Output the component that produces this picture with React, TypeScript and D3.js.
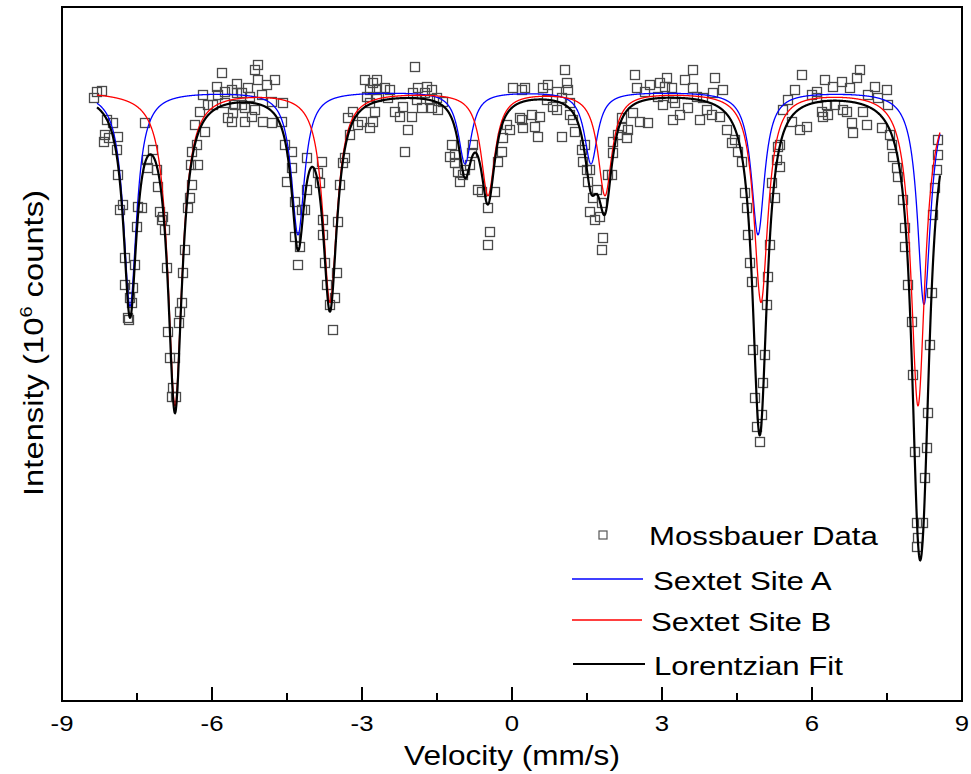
import React from "react";
import * as d3 from "d3";

// Mossbauer data: velocity (mm/s) and intensity (10^6 counts)
const velocity = [
  -8.36, -8.30, -8.20, -8.10, -7.98, -8.14, -8.06, -7.88, -8.16, -7.90, -7.88, -7.78, -7.84, -7.74, -7.54, -7.74, -7.58, -7.64, -7.60, -7.68, -7.66,
  -7.34, -7.18, -7.30, -7.28, -7.10, -7.08, -7.48, -7.40, -7.50, -7.04, -6.98, -7.00, -6.94, -6.90, -6.88, -6.84, -6.74, -6.78, -6.80, -6.72,
  -6.60, -6.64, -6.66, -6.54, -6.58, -6.48, -6.44, -6.40, -6.42, -6.28, -6.30, -6.34, -6.40, -6.24, -6.18, -6.14, -6.08, -5.98, -5.90, -5.88,
  -5.80, -5.74, -5.74, -5.68, -5.60, -5.60, -5.58, -5.54, -5.50, -5.50, -5.40, -5.40, -5.34, -5.34, -5.28, -5.24, -5.20, -5.14, -5.14, -5.08,
  -5.08, -5.00, -4.98, -4.90, -4.80, -4.80, -4.74, -4.60, -4.58, -4.54, -4.40, -4.40, -4.50, -4.34, -4.14, -4.20, -4.34, -4.24, -4.28, -4.10,
  -3.80, -3.88, -3.84, -4.10, -3.78, -3.78, -3.74, -3.70, -3.64, -3.58, -3.54, -3.50, -3.48, -3.44, -3.38, -3.34, -3.24, -3.28, -3.18, -3.00,
  -2.94, -2.84, -2.84, -3.08, -2.70, -2.74, -2.90, -2.70, -1.94, -2.54, -2.78, -2.44, -2.84, -2.70, -2.48, -1.88, -1.70, -1.60, -1.74, -1.98,
  -1.50, -1.90, -1.64, -1.38, -2.18, -2.34, -1.80, -1.60, -1.48, -2.00, -2.24, -2.08, -2.78, -2.14, -1.20, -1.14, -1.24, -1.14, -1.08, -0.94,
  -1.04, -0.78, -0.80, -0.84, -0.98, -0.68, -0.60, -0.34, -0.48, -0.44, -0.48, -0.28, -0.20, -0.18, -0.10, -0.04, 0.20, 0.02, 0.20,
  1.06, 0.72, 1.10, 1.12, 0.62, 0.26, 0.90, 1.00, 0.70, 1.16, 0.82, 0.90, 0.40, 0.56, 1.16, 1.22, 0.16, 0.22, 0.46, 0.52, 1.00, 1.26,
  1.46, 1.40, 1.42, 1.50, 1.56, 1.52, 1.70, 1.62, 1.80, 1.56, 1.66, 1.76, 1.82, 1.80, 1.92, 2.00, 2.02, 2.02, 2.12, 2.20, 2.20, 2.32, 2.30,
  2.42, 2.72, 2.56, 2.50, 2.66, 2.96, 3.06, 3.02, 2.92, 2.76, 2.46, 3.10, 3.20, 3.22, 3.26, 3.46, 3.62, 3.62, 3.70, 4.06, 4.22, 4.02, 3.82,
  3.36, 3.22, 3.52, 3.76, 3.90, 4.00, 4.16, 4.30, 4.46, 4.40, 4.52, 4.60, 4.66, 4.70, 4.72, 4.76, 4.80, 4.82, 4.86, 4.90, 4.96, 5.00, 5.02,
  5.06, 5.10, 5.12, 5.16, 5.26, 5.20, 5.30, 5.32, 5.36, 5.36, 5.80, 6.96, 6.90, 6.26, 6.42, 6.60, 6.76, 7.26, 7.50, 5.66, 6.10, 6.00, 7.12,
  5.52, 7.32, 7.52, 6.30, 6.46, 6.62, 6.70, 5.42, 6.20, 6.32, 7.02, 6.80, 7.10, 6.82, 5.90, 5.76, 5.60, 7.40, 7.56, 6.10, 6.22,
  7.60, 7.62, 7.70, 7.72, 7.82, 7.86, 7.86, 7.92, 8.00, 8.02, 8.06, 8.10, 8.12, 8.10, 8.22, 8.26, 8.30, 8.32, 8.36, 8.40, 8.42, 8.46, 8.50,
  8.52, 8.52,
];
const intensity = [
  6.03, 6.09, 6.10, 5.81, 5.78, 5.66, 5.63, 5.64, 5.59, 5.51, 5.26, 4.96, 4.91, 4.43, 4.36, 4.16, 4.13, 4.03, 3.98, 3.83, 3.81,
  5.78, 5.51, 5.41, 5.33, 5.31, 5.14, 4.94, 4.93, 4.74, 4.89, 4.84, 4.81, 4.71, 4.33, 3.69, 3.43, 3.43, 3.13, 3.04, 3.04,
  3.98, 3.89, 3.78, 4.51, 4.28, 4.93, 5.03, 5.16, 5.36, 5.36, 5.56, 5.76, 5.49, 5.89, 6.06, 5.69, 5.96, 5.96, 6.14, 6.06,
  6.28, 6.09, 5.98, 5.83, 6.11, 5.79, 5.88, 5.96, 6.17, 6.08, 6.08, 5.96, 5.93, 5.79, 6.13, 6.04, 5.84, 6.31, 5.91, 6.36,
  6.21, 6.06, 5.79, 6.16, 5.99, 5.78, 6.21, 5.79, 5.98, 5.56, 5.49, 5.33, 5.19, 4.99, 4.91, 4.91, 4.64, 4.54, 4.36, 5.43,
  5.39, 5.28, 5.18, 5.11, 4.81, 4.66, 4.38, 4.16, 3.96, 3.71, 4.03, 4.28, 4.79, 5.16, 5.38, 5.43, 5.66, 5.83, 5.89, 5.79,
  6.21, 5.98, 5.73, 5.76, 6.21, 5.89, 6.04, 6.11, 6.34, 6.13, 6.18, 6.11, 6.11, 6.04, 6.03, 6.13, 6.14, 6.11, 6.08, 6.08,
  6.03, 6.01, 6.01, 5.99, 5.94, 5.89, 5.93, 5.93, 5.91, 5.84, 5.84, 5.71, 5.79, 5.49, 5.56, 5.46, 5.44, 5.38, 5.29, 5.31,
  5.19, 5.56, 5.48, 5.36, 5.26, 5.11, 5.09, 5.09, 4.93, 4.69, 4.56, 5.39, 5.49, 5.63, 5.76, 5.71, 5.81, 6.13, 6.11,
  6.31, 6.16, 6.18, 6.11, 6.13, 6.13, 6.09, 6.03, 6.01, 5.98, 5.94, 5.91, 5.86, 5.84, 5.86, 5.81, 5.83, 5.73, 5.74, 5.64, 5.64, 5.69,
  5.56, 5.51, 5.39, 5.31, 5.31, 5.19, 5.11, 5.03, 4.98, 4.89, 4.81, 4.84, 4.63, 4.51, 5.26, 5.26, 5.48, 5.59, 5.66, 5.73, 5.83, 5.71, 5.63,
  5.88, 5.78, 5.79, 6.13, 6.09, 6.18, 6.14, 5.96, 6.04, 6.16, 6.26, 6.23, 6.13, 6.03, 5.98, 6.21, 6.31, 6.13, 6.04, 6.23, 6.11, 6.08, 6.03,
  5.86, 5.81, 5.93, 5.81, 5.91, 5.86, 5.84, 5.71, 5.61, 5.58, 5.49, 5.39, 5.08, 4.93, 4.66, 4.38, 4.19, 3.51, 3.03, 2.74, 2.59, 2.86, 3.18,
  3.46, 3.96, 4.24, 4.56, 5.03, 5.18, 5.41, 5.54, 5.34, 5.56, 6.26, 6.31, 6.23, 6.21, 6.14, 6.19, 6.13, 6.14, 6.11, 6.11, 6.09, 6.06, 6.06,
  6.01, 6.03, 5.96, 5.96, 5.96, 5.91, 5.89, 5.91, 5.89, 5.86, 5.89, 5.78, 5.76, 5.68, 5.74, 5.71, 5.79, 5.73, 5.66, 6.03, 5.84,
  5.56, 5.44, 5.33, 5.24, 5.01, 4.73, 4.54, 4.16, 3.79, 3.26, 2.49, 1.78, 1.63, 1.54, 1.78, 2.23, 2.53, 2.88, 3.56, 4.08, 4.86, 5.13, 5.31,
  5.46, 5.61,
];

// Fitted sextet parameters (Lorentzian lines)
const baseline = 6.10;
const siteACenters = [-7.64, -4.28, -0.94, 1.58, 4.92, 8.24];
const siteADepths = [2.15, 1.43, 0.72, 0.72, 1.43, 2.13];
const siteAHwhm = 0.16;
const siteBCenters = [-6.74, -3.64, -0.48, 1.86, 4.98, 8.12];
const siteBDepths = [3.14, 2.10, 1.03, 1.03, 2.10, 3.14];
const siteBHwhm = 0.17;
const fitRange = [-8.3, 8.56];

const xTicks = [-9, -6, -3, 0, 3, 6, 9];
const xMinorTicks = [-7.5, -4.5, -1.5, 1.5, 4.5, 7.5];

const legendItems = ["Mossbauer Data", "Sextet Site A", "Sextet Site B", "Lorentzian Fit"];

const W = 971;
const H = 774;
const x = d3.scaleLinear().domain([-9, 9]).range([62, 962]);
const y = d3.scaleLinear().domain([0, 6.94]).range([701, 7]);

const lor = (v: number, c: number[], d: number[], g: number) =>
  c.reduce((s, ci, i) => s + (d[i] * g * g) / (g * g + (v - ci) * (v - ci)), 0);

const grid = d3.range(fitRange[0], fitRange[1] + 1e-9, 0.005);
const siteA = grid.map((v) => [v, baseline - lor(v, siteACenters, siteADepths, siteAHwhm)]);
const siteB = grid.map((v) => [v, baseline - lor(v, siteBCenters, siteBDepths, siteBHwhm)]);
const total = grid.map((v) => [
  v,
  baseline - lor(v, siteACenters, siteADepths, siteAHwhm) - lor(v, siteBCenters, siteBDepths, siteBHwhm),
]);

const line = d3
  .line<number[]>()
  .x((d) => x(d[0]))
  .y((d) => y(d[1]));

const FONT = "'Liberation Sans', Arial, Helvetica, sans-serif";

export default function App() {
  const sq = 9;
  return (
    <div style={{ position: "absolute", left: 0, top: 0 }}>
      <svg width={W} height={H} style={{ display: "block", background: "#fff" }} fontFamily={FONT}>
        <rect x={0} y={0} width={W} height={H} fill="#fff" />
        {/* data */}
        <g fill="none" stroke="#4a4a4a" strokeWidth={1.3}>
          {velocity.map((v, i) => (
            <rect key={i} x={x(v) - sq / 2} y={y(intensity[i]) - sq / 2} width={sq} height={sq} />
          ))}
        </g>
        <path d={line(siteA) || ""} fill="none" stroke="#0000ff" strokeWidth={1.3} />
        <path d={line(siteB) || ""} fill="none" stroke="#ff0000" strokeWidth={1.3} />
        <path d={line(total) || ""} fill="none" stroke="#000" strokeWidth={2.2} />
        {/* frame */}
        <rect x={62} y={7} width={900} height={694} fill="none" stroke="#000" strokeWidth={2} />
        {/* ticks */}
        <g stroke="#000" strokeWidth={2}>
          {xTicks.map((t) => (
            <line key={t} x1={x(t)} x2={x(t)} y1={701} y2={687} />
          ))}
          {xMinorTicks.map((t) => (
            <line key={t} x1={x(t)} x2={x(t)} y1={701} y2={693} />
          ))}
        </g>
        <g fontSize={22} textAnchor="middle" fill="#000">
          {xTicks.map((t) => (
            <text key={t} transform={`translate(${x(t)},731) scale(1.17,1)`}>
              {t}
            </text>
          ))}
        </g>
        <text transform="translate(512,765) scale(1.17,1)" fontSize={27} textAnchor="middle">
          Velocity (mm/s)
        </text>
        <text transform="translate(43,343) rotate(-90) scale(1.17,1)" fontSize={28} textAnchor="middle">
          Intensity (10
          <tspan fontSize={17} dy={-11}>6</tspan>
          <tspan dy={11}> counts)</tspan>
        </text>
        {/* legend */}
        <g fontSize={26}>
          <rect x={599} y={531} width={8} height={8} fill="none" stroke="#555" strokeWidth={1.2} />
          <text transform="translate(649,545) scale(1.2,1)">{legendItems[0]}</text>
          <line x1={572} x2={643} y1={579} y2={579} stroke="#0000ff" strokeWidth={1.3} />
          <text transform="translate(653,590) scale(1.2,1)">{legendItems[1]}</text>
          <line x1={572} x2={642} y1={620} y2={620} stroke="#ff0000" strokeWidth={1.3} />
          <text transform="translate(651,631) scale(1.2,1)">{legendItems[2]}</text>
          <line x1={573} x2={645} y1={664} y2={664} stroke="#000" strokeWidth={2} />
          <text transform="translate(654,675) scale(1.2,1)">{legendItems[3]}</text>
        </g>
      </svg>
    </div>
  );
}
